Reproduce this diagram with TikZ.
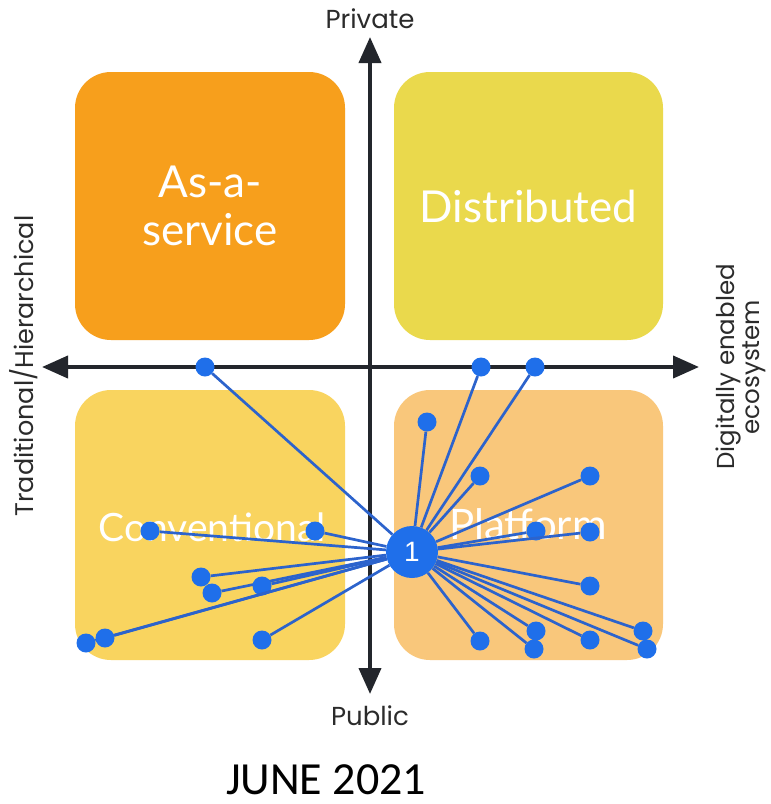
\documentclass[tikz,border=0pt]{standalone}
\usepackage{fontspec}
\setmainfont{Lato}
\newfontfamily\axisfont{Poppins}
\newfontfamily\datefont{Carlito}
\newfontfamily\numfont{Liberation Sans}
\usetikzlibrary{arrows.meta}
\definecolor{cAs}{HTML}{F79F1C}
\definecolor{cDist}{HTML}{EAD94C}
\definecolor{cConv}{HTML}{F9D45F}
\definecolor{cPlat}{HTML}{F9C77B}
\definecolor{dotblue}{HTML}{1F6FEA}
\definecolor{lineblue}{HTML}{2C63CC}
\definecolor{axisdark}{HTML}{23262C}
\definecolor{axisgray}{HTML}{2B2B2B}
\begin{document}
\begin{tikzpicture}[x=1pt,y=-1pt,
  quad/.style={rounded corners=36pt, inner sep=0pt, text=white,
    font=\fontsize{44}{48}\selectfont, align=center},
  axislabel/.style={text=axisgray, font=\axisfont\fontsize{25.5}{25}\selectfont, align=center, inner sep=0pt},
  dot/.style={circle, fill=dotblue, inner sep=0pt, minimum size=19pt},
  hub/.style={circle, fill=dotblue, inner sep=0pt, minimum size=52pt, text=white,
    font=\numfont\fontsize{28}{30}\selectfont},
  link/.style={draw=lineblue, line width=2.7pt},
  axisline/.style={draw=axisdark, line width=4pt,
    {Triangle[length=26pt,width=22pt]}-{Triangle[length=26pt,width=22pt]}}
]
\useasboundingbox[fill=white] (0,0) rectangle (771,804);

% quadrants
\node[quad, fill=cAs, minimum width=270pt, minimum height=268pt] (as) at (210,206) {As-a-\\service};
\node[quad, fill=cDist, minimum width=269pt, minimum height=268pt] (dist) at (528.5,206) {Distributed};
\node[quad, fill=cConv, minimum width=270pt, minimum height=270pt] (conv) at (210,525) {};
\node[quad, fill=cPlat, minimum width=269pt, minimum height=270pt] (plat) at (528.5,525) {};
\node[quad, font=\fontsize{39}{42}\selectfont] (convlbl) at (212,527) {Conventional};
\node[quad, font=\fontsize{42}{44}\selectfont] (platlbl) at (528,524) {Platform};

% axes
\coordinate (top) at (370,37);
\coordinate (bot) at (370,694);
\coordinate (lft) at (42,367);
\coordinate (rgt) at (699,367);
\draw[axisline] (bot) -- (top);
\draw[axisline] (lft) -- (rgt);

% axis labels
\node[axislabel, font=\axisfont\fontsize{26}{26}\selectfont] (private) at (370,19) {Private};
\node[axislabel, font=\axisfont\fontsize{26}{26}\selectfont] (public) at (370,716) {Public};
\node[axislabel, rotate=90] (trad) at (24,366) {Traditional/Hierarchical};
\node[axislabel, rotate=90, font=\axisfont\fontsize{24.5}{23}\selectfont] (digi) at (741,367) {Digitally enabled\\ecosystem};

% dots
\node[hub] (hub) at (412,552) {1};
\foreach \n/\x/\y in {
  a1/205/367, a2/481/367, a3/535/367,
  c1/150/531, c2/315/531, c3/201/577, c4/212/593, c5/262/586,
  c6/86/643, c7/105/638, c8/262/640,
  p1/427/422, p2/480/476, p3/590/476, p4/536/531, p5/590/532,
  p6/590/586, p7/480/641, p8/536/631, p9/534/649, p10/590/640,
  p11/643/631, p12/647/649}
{
  \node[dot] (\n) at (\x,\y) {};
  \draw[link] (hub) -- (\n);
}

% date
\node[font=\datefont\fontsize{46}{50}\selectfont, text=black, inner sep=0pt, anchor=base] (date) at (326,794) {JUNE 2021};
\end{tikzpicture}
\end{document}
